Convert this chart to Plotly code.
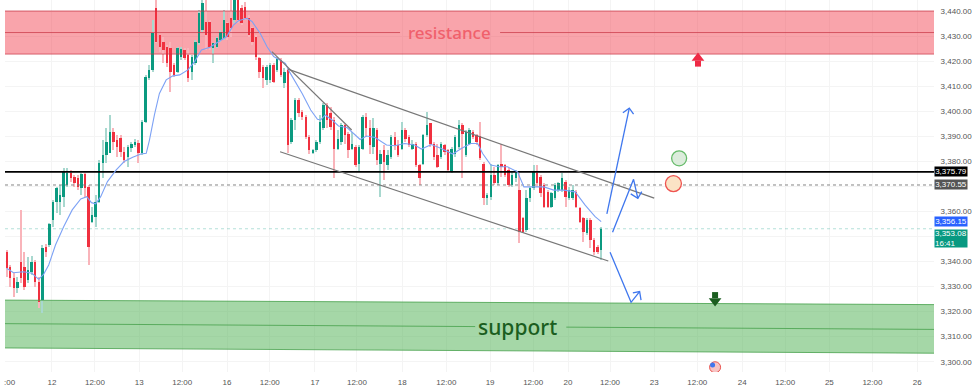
import plotly.graph_objects as go

# --- hourly candles (bar index is the hour slot on a session axis) ---
open_ = [3343.9,3337.9,3333.3,3329.3,3339.9,3337.9,3332.6,3335.9,3339.9,3332.0,3324.6,3345.9,3346.6,3356.6,3363.9,3363.9,3365.9,3370.5,3375.2,3373.9,
3373.2,3369.2,3374.9,3369.9,3355.9,3357.9,3363.9,3379.2,3382.5,3383.2,3391.8,3388.5,3389.2,3383.9,3381.9,3385.2,3386.5,3387.2,3383.2,3395.8,
3413.1,3416.5,3441.1,3430.4,3427.8,3425.8,3425.1,3418.5,3415.8,3421.8,3424.4,3422.4,3415.8,3419.1,3427.1,3432.4,3435.8,3435.8,3425.1,3425.8,
3428.4,3429.1,3435.1,3437.1,3436.4,3444.4,3441.1,3441.7,3437.1,3433.1,3429.8,3421.1,3417.8,3412.5,3412.5,3418.5,3416.5,3420.4,3411.1,3416.5,
3387.8,3396.5,3404.4,3399.8,3397.8,3389.8,3383.4,3384.5,3387.8,3393.1,3402.4,3399.1,3396.5,3385.1,3387.8,3394.5,3391.1,3385.1,3385.8,3379.1,
3385.1,3397.8,3393.1,3385.8,3392.5,3379.1,3384.5,3378.5,3381.8,3389.8,3386.5,3385.1,3392.5,3389.8,3385.1,3387.1,3378.5,3379.1,3390.5,3395.1,
3387.1,3382.5,3381.8,3386.5,3384.5,3375.8,3383.1,3385.8,3394.5,3382.5,3387.1,3391.8,3390.5,3390.1,3379.1,3365.2,3365.9,3374.5,3371.2,3379.1,
3378.5,3376.5,3370.5,3373.2,3368.5,3357.2,3352.5,3365.2,3369.2,3375.2,3373.8,3370.5,3367.8,3361.9,3365.2,3368.5,3368.5,3371.8,3365.2,3365.2,
3367.8,3361.2,3357.2,3351.2,3356.5,3348.6,3345.9,3344.6]
high = [3344.6,3338.6,3335.3,3333.9,3360.6,3343.9,3341.9,3342.2,3340.6,3333.9,3346.6,3346.8,3355.2,3364.6,3369.9,3370.5,3377.2,3377.2,3376.5,3374.5,
3374.5,3375.5,3375.5,3370.5,3361.9,3366.6,3380.5,3388.5,3393.2,3398.5,3393.2,3390.5,3390.5,3385.8,3386.5,3387.8,3388.8,3388.5,3396.5,3414.5,
3418.5,3436.4,3445.0,3430.4,3429.8,3426.4,3427.8,3419.1,3425.8,3425.8,3425.1,3425.1,3422.4,3428.4,3440.4,3445.0,3445.0,3436.4,3427.1,3429.8,
3432.4,3440.4,3435.8,3445.0,3447.0,3447.0,3442.4,3443.7,3438.4,3433.8,3430.4,3421.8,3418.5,3418.5,3419.1,3419.1,3421.8,3421.1,3417.1,3417.1,
3397.1,3405.1,3405.1,3400.4,3398.5,3390.5,3385.1,3388.5,3398.5,3403.1,3403.1,3401.8,3397.8,3392.5,3395.1,3394.9,3391.8,3391.8,3386.5,3386.5,
3398.5,3399.1,3396.5,3397.1,3393.1,3384.5,3386.5,3384.5,3390.5,3391.8,3388.5,3395.8,3393.1,3390.5,3388.5,3387.8,3379.1,3391.1,3399.8,3395.1,
3387.8,3387.1,3387.8,3387.1,3385.1,3385.8,3390.5,3396.5,3395.1,3392.5,3393.1,3392.5,3391.1,3395.8,3379.8,3367.2,3379.1,3377.8,3379.1,3387.1,
3379.1,3377.2,3375.8,3376.5,3375.2,3357.9,3368.5,3369.8,3378.5,3378.5,3374.5,3371.2,3368.5,3367.8,3371.2,3371.8,3375.2,3372.5,3369.9,3370.5,
3368.5,3361.9,3357.9,3357.2,3357.2,3349.2,3346.6,3353.9]
low = [3333.9,3330.0,3326.0,3327.3,3331.3,3328.6,3331.3,3334.6,3330.0,3321.3,3319.3,3341.9,3345.9,3353.9,3359.2,3358.6,3361.9,3369.9,3371.9,3369.9,
3368.5,3366.6,3365.9,3338.6,3355.2,3353.9,3363.2,3373.2,3379.2,3383.2,3384.5,3381.9,3381.9,3379.2,3377.9,3383.9,3385.8,3379.2,3382.5,3395.2,
3412.5,3415.8,3427.1,3423.8,3419.1,3417.8,3407.8,3413.8,3415.1,3420.4,3420.4,3411.8,3412.5,3418.5,3426.4,3431.8,3424.4,3424.4,3419.1,3425.1,
3427.8,3428.4,3428.4,3429.8,3435.1,3435.1,3434.4,3436.4,3429.8,3426.4,3420.4,3413.1,3409.1,3410.5,3411.1,3411.1,3415.8,3413.8,3409.1,3383.2,
3387.1,3392.5,3397.8,3396.5,3389.1,3383.1,3382.9,3383.8,3387.1,3392.5,3393.1,3392.5,3373.2,3384.5,3386.5,3387.1,3381.2,3384.5,3377.8,3375.8,
3384.5,3389.8,3383.1,3383.1,3378.5,3365.9,3372.5,3376.5,3381.1,3384.5,3381.8,3384.5,3387.8,3385.8,3384.5,3377.8,3370.5,3378.5,3389.8,3385.8,
3380.5,3377.2,3381.1,3382.5,3375.8,3375.2,3381.8,3385.1,3373.2,3381.8,3386.5,3389.1,3386.5,3380.5,3362.5,3362.5,3364.5,3370.5,3370.5,3373.8,
3373.8,3369.9,3369.9,3371.8,3347.2,3351.2,3351.9,3363.9,3368.5,3369.9,3365.9,3361.2,3361.2,3361.2,3364.5,3367.8,3367.8,3361.9,3364.5,3364.5,
3361.2,3355.2,3347.9,3350.5,3345.2,3342.6,3343.2,3340.6]
close = [3337.3,3333.3,3329.3,3332.0,3333.3,3330.0,3336.6,3339.9,3332.0,3324.0,3345.3,3343.9,3355.0,3363.9,3369.2,3366.6,3375.9,3375.2,3373.2,3371.2,
3369.9,3374.9,3369.2,3345.9,3358.6,3363.9,3379.2,3382.5,3387.8,3391.8,3387.8,3385.8,3383.9,3380.5,3385.8,3386.9,3387.8,3383.2,3395.8,3413.8,
3416.5,3431.1,3427.8,3425.8,3424.4,3419.1,3415.8,3414.5,3425.1,3424.7,3421.1,3413.1,3421.8,3427.8,3439.1,3443.1,3430.4,3425.8,3427.1,3429.1,
3431.8,3436.4,3429.8,3433.1,3444.4,3436.4,3435.1,3437.1,3430.4,3427.8,3421.8,3415.8,3413.1,3417.8,3418.5,3411.8,3420.7,3414.5,3415.8,3386.5,
3396.5,3404.4,3399.1,3397.8,3389.8,3384.5,3384.5,3387.8,3395.8,3402.4,3396.5,3393.8,3385.1,3389.1,3394.5,3390.5,3384.5,3387.1,3378.5,3385.8,
3397.8,3393.1,3386.5,3393.1,3380.5,3383.1,3379.8,3382.5,3389.8,3386.5,3382.5,3392.5,3389.1,3386.5,3387.1,3378.5,3373.2,3390.5,3394.5,3387.1,
3381.8,3377.8,3387.1,3383.8,3376.5,3385.1,3389.8,3394.5,3391.1,3391.8,3392.5,3389.8,3387.8,3381.2,3365.2,3366.5,3374.5,3371.2,3378.5,3377.8,
3374.5,3370.5,3374.5,3375.2,3351.9,3351.9,3365.2,3369.2,3375.8,3371.2,3367.2,3361.9,3361.9,3367.2,3370.5,3371.2,3373.2,3365.9,3368.5,3368.5,
3361.9,3355.9,3351.9,3356.5,3348.6,3343.9,3343.9,3353.1]

# --- moving average ---
ma_x = [0,1.9,4.7,7.1,9,10.4,11.8,13.7,16,18.4,20.8,22.5,23.8,25,26.4,28.3,30.7,33,35.4,37.7,39.2,40.1,41.5,42.9,44.8,46.7,48.6,50.9,52.8,54.7,
57.1,60.4,61.8,63.7,65.1,67.5,68.9,71.2,73.1,75,78.3,79.4,81.1,83,85.4,87.3,88.2,89.5,91.4,93.2,95.6,97.4,99.3,101.1,103.5,106.7,109,111.8,114.6,
116.5,119.3,122.1,125.3,127.7,130.4,132.3,133.7,136,138.3,140.7,143.5,145.3,147.7,150.9,153.7,156.5,159.7,162.5,165.3,167]
ma_y = [3337.3,3335.5,3335.9,3335.3,3332.9,3335.0,3338.6,3346.6,3353.9,3360.6,3365.0,3365.9,3363.5,3363.0,3365.9,3371.9,3376.5,3379.9,3381.6,3382.9,
3383.2,3388.5,3398.5,3407.1,3412.5,3414.1,3414.5,3416.5,3419.8,3424.4,3425.5,3428.4,3429.8,3434.4,3436.1,3437.1,3435.8,3431.1,3425.8,3421.8,3419.1,
3415.8,3411.8,3407.1,3400.5,3396.8,3396.5,3398.5,3396.5,3394.1,3393.5,3391.1,3388.7,3390.1,3389.5,3386.5,3386.2,3387.1,3386.5,3384.9,3386.7,3385.1,
3382.9,3385.1,3387.1,3387.1,3383.1,3378.5,3377.8,3377.8,3375.8,3369.8,3369.8,3369.8,3368.5,3368.5,3367.8,3362.5,3357.9,3355.9]

# --- price levels ---
level_black = 3375.79
level_dotted = 3370.55
level_last = 3353.08
level_ma = 3356.15
X_MIN, X_MAX = -0.48, 260.5
Y_MIN, Y_MAX = 3295.9, 3444.39

# --- zones: (top, mid, bottom) at left and right of the chart ---
res_zone = (3440.0, 3431.4, 3422.8)
sup_left = (3324.6, 3315.2, 3305.5)
sup_right = (3322.8, 3312.9, 3303.4)
res_gap = (110.5, 138.6)
sup_gap = (131.6, 157.2)

# --- trend drawings ---
channel_top = ([79.0, 181.9], [3416.8, 3365.3])
channel_low = ([76.8, 169.0], [3383.8, 3340.2])
short_diag = ([74.5, 96.9], [3423.8, 3392.5])
arrow_up_x = [168.6, 174.9, None, 173.1, 174.9, 176.1]
arrow_up_y = [3359.0, 3401.2, None, 3399.4, 3401.2, 3398.8]
arrow_mid_x = [170.2, 176.1, 177.3, None, 175.3, 177.3, 178.4]
arrow_mid_y = [3351.7, 3372.8, 3365.2, None, 3367.0, 3365.2, 3367.9]
arrow_dn_x = [169.5, 175.4, 177.8, None, 175.9, 177.8, 178.2]
arrow_dn_y = [3343.7, 3323.7, 3328.0, None, 3327.5, 3328.0, 3324.6]

# --- axis ticks ---
x_ticks = [12.7,24.8,37.2,49.3,61.9,73.9,86.6,98.4,111.1,123.5,135.8,147.9,157.7,169.5,181.9,194.0,206.6,218.7,231.1,243.2,255.8]
x_labels = ["12","12:00","13","12:00","16","12:00","17","12:00","18","12:00","19","12:00","20","12:00","23","12:00","24","12:00","25","12:00","26"]
y_ticks = [3300,3310,3320,3330,3340,3350,3360,3370,3380,3390,3400,3410,3420,3430,3440]
y_labels = ["3,300.00","3,310.00","3,320.00","3,330.00","3,340.00","","3,360.00","","3,380.00","3,390.00","3,400.00","3,410.00","3,420.00","3,430.00","3,440.00"]

UP, DOWN = "#0b9a80", "#f0303f"
UP_W, DOWN_W = "#a8d8cf", "#f9b4ba"
idx = list(range(len(close)))
is_up = [c >= o for o, c in zip(open_, close)]
body_base = [min(o, c) for o, c in zip(open_, close)]
body_h = [abs(c - o) for o, c in zip(open_, close)]
wick_h = [h - l for h, l in zip(high, low)]

fig = go.Figure()
fig.add_trace(go.Bar(x=idx, y=wick_h, base=low, width=0.3,
                     marker=dict(color=[UP_W if u else DOWN_W for u in is_up], line=dict(width=0))))
fig.add_trace(go.Bar(x=idx, y=body_h, base=body_base, width=0.68,
                     marker=dict(color=[UP if u else DOWN for u in is_up], line=dict(width=0))))

def line(x, y, color, width=1, dash=None):
    fig.add_trace(go.Scatter(x=x, y=y, mode="lines", line=dict(color=color, width=width, dash=dash), hoverinfo="skip"))

RED_LINE = "rgba(200,50,65,.7)"
GREEN_LINE = "rgba(70,160,75,.8)"
line([X_MIN, X_MAX], [res_zone[0]] * 2, RED_LINE)
line([X_MIN, X_MAX], [res_zone[2]] * 2, RED_LINE)
line([X_MIN, res_gap[0], None, res_gap[1], X_MAX], [res_zone[1], res_zone[1], None, res_zone[1], res_zone[1]], RED_LINE)
line([X_MIN, X_MAX], [sup_left[0], sup_right[0]], GREEN_LINE)
line([X_MIN, X_MAX], [sup_left[2], sup_right[2]], GREEN_LINE)
slope = (sup_right[1] - sup_left[1]) / (X_MAX - X_MIN)
line([X_MIN, sup_gap[0], None, sup_gap[1], X_MAX],
     [sup_left[1], sup_left[1] + slope * (sup_gap[0] - X_MIN), None, sup_left[1] + slope * (sup_gap[1] - X_MIN), sup_right[1]], GREEN_LINE)

line([X_MIN, X_MAX], [level_black] * 2, "#000000", 1.6)
line([X_MIN, X_MAX], [level_dotted] * 2, "#777777", 0.9, "dot")
line([X_MIN, X_MAX], [level_last] * 2, "rgba(8,153,129,.3)", 1, "dot")
line(ma_x, ma_y, "#7da2f5", 1.1)
line(*channel_top, "#777777", 1.2)
line(*channel_low, "#777777", 1.2)
line(*short_diag, "#777777", 1.2)
for ax, ay in [(arrow_up_x, arrow_up_y), (arrow_mid_x, arrow_mid_y), (arrow_dn_x, arrow_dn_y)]:
    line(ax, ay, "#3f77ee", 1.3)

def marker(x, y, symbol, size, fill, edge=None, lw=0):
    fig.add_trace(go.Scatter(x=[x], y=[y], mode="markers", hoverinfo="skip",
                             marker=dict(symbol=symbol, size=size, color=fill, line=dict(color=edge, width=lw))))

marker(188.9, 3381.2, "circle", 15, "#dcecdc", "#66bb6a", 1.3)
marker(187.3, 3371.1, "circle", 16, "#fbe3c5", "#ef5350", 1.3)
marker(194.2, 3419.0, "square", 6, "#ee2a45")
marker(194.2, 3421.2, "triangle-up", 11, "#ee2a45")
marker(199.0, 3326.6, "square", 6, "#1b5e20")
marker(199.0, 3324.2, "triangle-down", 11, "#1b5e20")
marker(199.0, 3297.8, "circle", 11, "#f7c4c4", "#e9534f", 1)
marker(198.3, 3298.7, "circle", 5, "#3f77ee")

shapes = [
    dict(type="rect", xref="x", yref="y", x0=X_MIN, x1=X_MAX, y0=res_zone[2], y1=res_zone[0],
         fillcolor="rgba(242,54,69,.45)", line=dict(width=0), layer="between"),
    dict(type="path", xref="x", yref="y", layer="between", fillcolor="rgba(76,175,80,.5)", line=dict(width=0),
         path=f"M{X_MIN},{sup_left[0]} L{X_MAX},{sup_right[0]} L{X_MAX},{sup_right[2]} L{X_MIN},{sup_left[2]} Z"),
]

tick_font = dict(family="Liberation Sans", size=8, color="#555555")
annotations = [
    dict(text="resistance", x=124.5, y=res_zone[1], xref="x", yref="y", showarrow=False,
         font=dict(family="Noto Sans", size=17, color="#f0606b", weight=500)),
    dict(text="support", x=143.4, y=sup_left[1] + slope * (143.4 - X_MIN), xref="x", yref="y", showarrow=False,
         font=dict(family="Noto Sans", size=21, color="#1b5e20", weight=500)),
    dict(text=":00", x=5 / 929, y=-10.5 / 372, xref="paper", yref="paper", showarrow=False,
         xanchor="center", yanchor="middle", font=tick_font),
]
for val, txt, bg in [(level_black, "3,375.79", "#000000"), (level_dotted, "3,370.55", "#555555"), (level_ma, "3,356.15", "#2962ff")]:
    annotations.append(dict(text=txt, x=1.0, y=val, xref="paper", yref="y", xanchor="left", showarrow=False,
                            bgcolor=bg, width=32, height=9, borderpad=0,
                            font=dict(family="Liberation Sans", size=8, color="#ffffff")))
annotations.append(dict(text="3,353.08<br>16:41", x=1.0, y=3349.2, xref="paper", yref="y", xanchor="left", showarrow=False,
                        bgcolor="#089981", width=32, height=17, borderpad=0, align="left",
                        font=dict(family="Liberation Sans", size=8, color="#ffffff")))

fig.update_layout(
    width=974, height=389, margin=dict(l=5, r=40, t=0, b=17), autosize=False,
    paper_bgcolor="#ffffff", plot_bgcolor="#ffffff", showlegend=False, barmode="overlay", bargap=0,
    shapes=shapes, annotations=annotations, hovermode=False,
    xaxis=dict(range=[X_MIN, X_MAX], tickmode="array", tickvals=x_ticks, ticktext=x_labels, showgrid=True,
               gridcolor="#f4f4f4", gridwidth=1, zeroline=False, showline=False, tickfont=tick_font,
               ticks="outside", ticklen=2, tickcolor="rgba(0,0,0,0)", tickangle=0),
    yaxis=dict(range=[Y_MIN, Y_MAX], side="right", tickmode="array", tickvals=y_ticks,
               ticktext=y_labels, showgrid=True, gridcolor="#f4f4f4", gridwidth=1,
               zeroline=False, showline=False, tickfont=tick_font, ticks="outside", ticklen=4,
               tickcolor="rgba(0,0,0,0)"),
)

fig.write_html("out.html", config=dict(displayModeBar=False), post_script="document.body.style.margin='0';")
